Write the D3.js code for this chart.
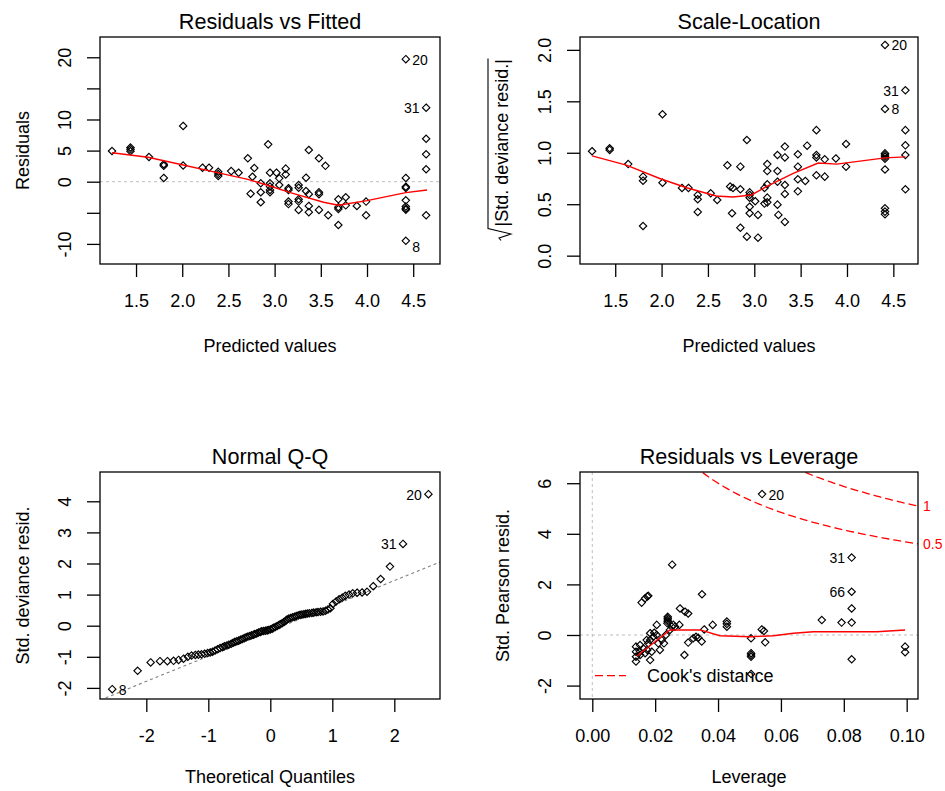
<!DOCTYPE html>
<html>
<head>
<meta charset="utf-8">
<script src="https://cdn.jsdelivr.net/npm/d3@7"></script>
<style>
  body { margin: 0; background: #fff; }
  svg { display: block; }
</style>
</head>
<body>
<svg id="chart" width="945" height="791"></svg>
<script>
// ---------- Residuals vs Fitted ----------
const rvfFitted = [1.24, 1.44,1.44,1.44, 1.64, 1.80,1.80,1.80, 2.01,2.01, 2.22,2.29, 2.39,2.39,2.39, 2.53,2.61,
  2.71,2.74,2.76,2.78, 2.85,2.85,2.85, 2.93,2.95,2.95,2.95,2.95,2.95, 3.02,3.05,3.05, 3.12,3.12,
  3.15,3.15,3.15,3.15, 3.26,3.26,3.26,3.26,3.26, 3.34,3.34, 3.37,3.37,3.37,3.37, 3.48,3.48,3.48,3.48,
  3.55,3.58, 3.69,3.69,3.69,3.69, 3.77,3.77, 3.89, 3.99,3.99,
  4.42,4.42,4.42,4.42,4.42,4.42,4.42,4.42,4.42, 4.64,4.64,4.64,4.64,4.64];
const rvfResid = [4.93, 5.5,5.2,4.9, 3.97, 2.8,2.57,0.6, 8.96,2.6, 2.25,2.25, 1.6,1.23,0.91, 1.7,1.45,
  3.76,-1.93,0.8,2.2, -0.26,-1.7,-3.3, 6.0,1.45,-0.26,-0.79,-1.32,-1.7, 1.45,0.54,-0.53, 2.1,1.15,
  -1.05,-1.32,-3.2,-3.6, -0.53,-0.96,-2.83,-3.2,-4.53, 0.64,-1.5, 5.1,-2.0,-3.9,-4.9, 3.76,-1.7,-2.0,-4.53,
  2.55,-5.4, -2.83,-4.1,-4.4,-6.96, -2.5,-3.8, -3.9, -3.2,-5.4,
  19.7,0.6,-0.8,-1.0,-3.0,-4.0,-4.3,-4.5,-9.5, 11.9,6.9,4.4,2.0,-5.4];
const rvfSmoothX = [1.24,1.63,2.01,2.38,2.71,2.95,3.17,3.53,3.69,4.00,4.42,4.65];
const rvfSmoothY = [4.66,3.92,2.68,1.45,0.38,-0.69,-1.76,-3.31,-3.79,-3.04,-1.76,-1.33];
const rvfIdText = ["20","31","8"];
const rvfIdIndex = [65, 74, 73];
const rvfXTicks = [1.5,2.0,2.5,3.0,3.5,4.0,4.5];
const rvfYTicks = [-10,-5,0,5,10,15,20];
const rvfYShown = [-10,0,5,10,20];

// ---------- Scale-Location ----------
const slFitted = [1.25, 1.44,1.44, 1.64, 1.80,1.80,1.80, 2.01,2.01, 2.22,2.29, 2.39,2.39,2.39, 2.53,2.60,
  2.71,2.74,2.76,2.77, 2.85,2.85,2.85, 2.92,2.92, 2.95,2.95,2.95,2.95,2.95, 3.01, 3.04,3.04, 3.11,3.11,
  3.14,3.14,3.14,3.14,3.14, 3.25,3.25,3.25,3.25,3.26, 3.33,3.33,3.33,3.33,3.33, 3.47,3.47,3.47,3.47,
  3.55,3.57, 3.67,3.67,3.67,3.67, 3.76,3.76, 3.88, 3.99,3.99,
  4.41,4.41,4.41,4.41,4.41,4.41,4.41,4.41,4.41,4.41, 4.63,4.63,4.63,4.63,4.63];
const slRoot = [1.015, 1.044,1.028, 0.89, 0.768,0.729,0.288, 1.374,0.709, 0.658,0.658, 0.59,0.548,0.425, 0.606,0.541,
  0.878,0.671,0.412,0.658, 0.865,0.645,0.272, 1.124,0.185, 0.615,0.59,0.564,0.476,0.412, 0.529, 0.396,0.175, 0.658,0.506,
  0.89,0.822,0.693,0.564,0.518, 0.978,0.822,0.719,0.496,0.396, 1.06,0.955,0.687,0.6,0.328, 0.985,0.865,0.742,0.625,
  0.726,1.069, 1.22,0.978,0.955,0.781, 0.936,0.768, 0.945, 1.085,0.865,
  2.048,1.426,0.994,0.978,0.962,0.942,0.838,0.46,0.428,0.402, 1.607,1.22,1.072,0.978,0.645];
const slSmoothX = [1.25,1.62,1.98,2.27,2.59,2.77,2.97,3.13,3.42,3.69,3.89,4.41,4.63];
const slSmoothY = [0.97,0.88,0.75,0.66,0.58,0.57,0.59,0.67,0.80,0.90,0.89,0.95,0.96];
const slIdText = ["20","8","31"];
const slIdIndex = [65, 66, 75];
const slYTicks = [0.0,0.5,1.0,1.5,2.0];

// ---------- Normal Q-Q ----------
const qqTheoretical = [-2.55,-2.14,-1.93,-1.78,-1.66,-1.56,-1.48,-1.40,-1.33,-1.27,-1.21,-1.16,-1.11,-1.06,-1.01,
  -0.97,-0.93,-0.89,-0.85,-0.81,-0.77,-0.74,-0.70,-0.67,-0.63,-0.60,-0.57,-0.54,-0.51,-0.48,-0.45,-0.42,-0.39,
  -0.36,-0.33,-0.30,-0.27,-0.25,-0.22,-0.19,-0.16,-0.14,-0.11,-0.08,-0.05,-0.03,0,
  0.03,0.05,0.08,0.11,0.14,0.16,0.19,0.22,0.25,0.27,0.30,0.33,0.36,0.39,0.42,0.45,0.48,0.51,0.54,0.57,0.60,
  0.63,0.67,0.70,0.74,0.77,0.81,0.85,0.89,0.93,0.97,1.01,1.06,1.11,1.16,1.21,1.27,1.33,1.40,1.48,1.56,1.66,
  1.78,1.93,2.14,2.55];
const qqSample = [-2.04,-1.45,-1.18,-1.14,-1.14,-1.13,-1.10,-1.06,-1.00,-0.96,-0.94,-0.93,-0.92,-0.90,-0.88,
  -0.86,-0.84,-0.80,-0.76,-0.72,-0.69,-0.66,-0.64,-0.61,-0.58,-0.55,-0.52,-0.50,-0.48,-0.45,-0.43,-0.40,-0.37,
  -0.35,-0.33,-0.31,-0.29,-0.27,-0.25,-0.22,-0.20,-0.18,-0.17,-0.16,-0.15,-0.14,-0.12,
  -0.10,-0.07,-0.04,-0.01,0.02,0.05,0.08,0.12,0.16,0.20,0.23,0.25,0.27,0.29,0.31,0.33,0.35,0.36,0.37,0.38,0.39,
  0.40,0.41,0.42,0.43,0.44,0.45,0.46,0.48,0.52,0.56,0.70,0.78,0.85,0.90,0.96,1.00,1.04,1.06,1.07,1.09,1.27,
  1.50,1.90,2.63,4.23];
const qqLineIntercept = -0.17;
const qqLineSlope = 0.81;
const qqIdText = ["8","31","20"];
const qqIdIndex = [0, 91, 92];
const qqXTicks = [-2,-1,0,1,2];
const qqYTicks = [-2,-1,0,1,2,3,4];

// ---------- Residuals vs Leverage ----------
const rvlLeverage = [0.0139,0.0139,0.0139,0.0139,0.0152,0.0152,0.0152,0.0162,0.0168,0.0175,0.0178,0.0184,0.0184,
  0.0189,0.0194,0.0197,0.0205,0.0210,0.0215,0.0221,0.0228,0.0234,0.0239,0.0247,0.0253,0.0258,0.0263,0.0293,
  0.0305,0.0321,0.0330,0.0337,0.0348,0.0184,0.0173,
  0.0157,0.0168,0.0175,0.0178,0.0254,0.0349,0.0279,0.0295,0.0305,0.0205,0.0240,0.0240,0.0240,0.0240,0.0277,
  0.0356,0.0383,0.0428,0.0428,0.0428,0.0505,0.0505,0.0505,0.0505,0.0505,0.0539,0.0546,0.0550,0.0730,0.0793,
  0.0825,0.0825,0.0825,0.0825,0.0825,0.0995,0.0995,0.0540];
const rvlResid = [-0.46,-0.66,-0.86,-1.05,-0.40,-0.66,-0.79,-0.53,-0.72,-0.59,-0.33,-0.20,-0.99,
  -0.66,-0.07,0.09,0.00,-0.33,-0.59,-0.20,-0.33,0.00,0.46,0.20,0.33,0.40,0.33,-0.79,
  -0.30,-0.13,-0.07,-0.11,-0.26,0.07,-0.20,
  1.28,1.45,1.52,1.55,2.78,1.61,1.05,0.92,0.85,0.40,0.72,0.66,0.59,0.53,0.40,
  0.22,0.40,0.53,0.44,0.33,-0.13,-0.72,-0.79,-0.86,-1.54,0.22,0.16,-0.29,0.59,0.49,
  3.06,1.71,1.05,0.49,-0.96,-0.46,-0.68,5.57];
const rvlSmoothX = [0.0142,0.0247,0.0343,0.0406,0.0501,0.0576,0.0640,0.0703,0.0905,0.0995];
const rvlSmoothY = [-0.83,0.20,0.20,-0.03,-0.07,-0.03,0.07,0.13,0.13,0.20];
const rvlIdText = ["20","31","66"];
const rvlIdIndex = [72, 65, 66];
const cookLevels = [0.5, 1];
const cookLevelText = ["0.5", "1"];
const modelParams = 3;
const rvlXTicks = [0.00,0.02,0.04,0.06,0.08,0.10];
const rvlYTicks = [-2,0,2,4,6];

// ---------- drawing ----------
const FONT = "'Liberation Sans', Arial, Helvetica, sans-serif";
const RED = "#ff0000";
const svg = d3.select("#chart");
svg.append("rect").attr("width", 945).attr("height", 791).attr("fill", "#fff");
const defs = svg.append("defs");
let clipCount = 0;

const diamond = "M0,-3.7L3.7,0L0,3.7L-3.7,0Z";

function panel(o) {
  const x = d3.scaleLinear().domain(o.xDomain).range([o.left, o.right]);
  const y = d3.scaleLinear().domain(o.yDomain).range([o.bottom, o.top]);
  const id = "clip" + (clipCount++);
  defs.append("clipPath").attr("id", id).append("rect")
    .attr("x", o.left).attr("y", o.top)
    .attr("width", o.right - o.left).attr("height", o.bottom - o.top);
  const g = svg.append("g");
  const plot = g.append("g").attr("clip-path", `url(#${id})`);

  // x axis
  const xa = g.append("g").attr("transform", `translate(0,${o.bottom})`)
    .call(d3.axisBottom(x).tickValues(o.xTicks).tickSize(13).tickFormat(o.xFormat));
  xa.select(".domain").remove();
  xa.attr("font-size", 18).attr("font-family", FONT);
  xa.selectAll(".tick line").attr("stroke", "#000").attr("stroke-width", 1.3);
  xa.selectAll(".tick text").attr("y", 42.5).attr("dy", 0).attr("fill", "#000");

  // y axis (labels parallel to the axis)
  const ya = g.append("g").attr("transform", `translate(${o.left},0)`)
    .call(d3.axisLeft(y).tickValues(o.yTicks).tickSize(13).tickFormat(o.yFormat));
  ya.select(".domain").remove();
  ya.attr("font-size", 18).attr("font-family", FONT);
  ya.selectAll(".tick line").attr("stroke", "#000").attr("stroke-width", 1.3);
  ya.selectAll(".tick text").attr("x", 0).attr("dy", 0).attr("text-anchor", "middle")
    .attr("fill", "#000").attr("transform", "translate(-29,0) rotate(-90)");

  // frame
  g.append("rect").attr("x", o.left).attr("y", o.top)
    .attr("width", o.right - o.left).attr("height", o.bottom - o.top)
    .attr("fill", "none").attr("stroke", "#000").attr("stroke-width", 1.3);

  // title and axis titles
  g.append("text").attr("x", (o.left + o.right) / 2).attr("y", o.top - 7.7)
    .attr("text-anchor", "middle").attr("font-family", FONT).attr("font-size", 21.6)
    .attr("fill", "#000").text(o.title);
  g.append("text").attr("x", (o.left + o.right) / 2).attr("y", o.bottom + o.xlabGap)
    .attr("text-anchor", "middle").attr("font-family", FONT).attr("font-size", 18)
    .attr("fill", "#000").text(o.xlab);
  if (o.ylab) {
    g.append("text")
      .attr("transform", `translate(${o.left - 71},${(o.top + o.bottom) / 2}) rotate(-90)`)
      .attr("text-anchor", "middle").attr("font-family", FONT).attr("font-size", 18)
      .attr("fill", "#000").text(o.ylab);
  }
  return { x, y, g, plot };
}

function points(p, xs, ys) {
  p.plot.append("g").selectAll("path").data(xs).join("path")
    .attr("d", diamond)
    .attr("transform", (d, i) => `translate(${p.x(d)},${p.y(ys[i])})`)
    .attr("fill", "none").attr("stroke", "#000").attr("stroke-width", 1.15);
}

function smooth(p, xs, ys) {
  const line = d3.line().x(d => p.x(d[0])).y(d => p.y(d[1]));
  p.plot.append("path").attr("d", line(xs.map((d, i) => [d, ys[i]])))
    .attr("fill", "none").attr("stroke", RED).attr("stroke-width", 1.4);
}

function idLabels(p, xs, ys, texts, idx, sides) {
  texts.forEach((t, k) => {
    const i = idx[k];
    const cx = p.x(xs[i]), cy = p.y(ys[i]);
    const side = sides[k];
    let tx = side === "left" ? cx - 6.5 : cx + 6.5;
    let ty = cy + 5.5 + (side === "below" ? 6 : 0);
    p.g.append("text").attr("x", tx).attr("y", ty)
      .attr("text-anchor", side === "left" ? "end" : "start")
      .attr("font-family", FONT).attr("font-size", 14).attr("fill", "#000").text(t);
  });
}

function hLine(p, v, color, dash) {
  const [x0, x1] = p.x.domain();
  p.plot.append("line").attr("x1", p.x(x0)).attr("x2", p.x(x1))
    .attr("y1", p.y(v)).attr("y2", p.y(v))
    .attr("stroke", color).attr("stroke-width", 1).attr("stroke-dasharray", dash);
}

const f1 = d3.format(".1f");
const f2 = d3.format(".2f");
const plain = d => String(d);

// Panel 1: Residuals vs Fitted
const p1 = panel({
  left: 100, right: 440, top: 37, bottom: 264,
  xDomain: [1.110, 4.790], yDomain: [-13.23, 23.26],
  xTicks: rvfXTicks, yTicks: rvfYTicks,
  xFormat: f1, yFormat: d => rvfYShown.includes(d) ? String(d) : "",
  title: "Residuals vs Fitted", xlab: "Predicted values", ylab: "Residuals", xlabGap: 88
});
hLine(p1, 0, "#bebebe", "3,3");
points(p1, rvfFitted, rvfResid);
smooth(p1, rvfSmoothX, rvfSmoothY);
idLabels(p1, rvfFitted, rvfResid, rvfIdText, rvfIdIndex, ["right", "left", "below"]);

// Panel 2: Scale-Location
const p2 = panel({
  left: 580, right: 918, top: 37, bottom: 264,
  xDomain: [1.120, 4.766], yDomain: [-0.081, 2.125],
  xTicks: rvfXTicks, yTicks: slYTicks,
  xFormat: f1, yFormat: f1,
  title: "Scale-Location", xlab: "Predicted values", ylab: null, xlabGap: 88
});
points(p2, slFitted, slRoot);
smooth(p2, slSmoothX, slSmoothY);
idLabels(p2, slFitted, slRoot, slIdText, slIdIndex, ["right", "right", "left"]);
{
  // y title: square root of absolute standardized deviance residuals
  const yl = p2.g.append("g")
    .attr("transform", `translate(${580 - 72},${(37 + 264) / 2}) rotate(-90)`);
  yl.append("text").attr("x", -76).attr("y", 0).attr("text-anchor", "start")
    .attr("font-family", FONT).attr("font-size", 18).attr("fill", "#000")
    .text("|Std. deviance resid.|");
  yl.append("path")
    .attr("d", "M-90,-7 L-87.5,-9 L-83.5,3 L-78,-20 L92,-20")
    .attr("fill", "none").attr("stroke", "#000").attr("stroke-width", 1.1);
}

// Panel 3: Normal Q-Q
const p3 = panel({
  left: 100, right: 440, top: 472, bottom: 699,
  xDomain: [-2.747, 2.737], yDomain: [-2.357, 4.942],
  xTicks: qqXTicks, yTicks: qqYTicks,
  xFormat: plain, yFormat: plain,
  title: "Normal Q-Q", xlab: "Theoretical Quantiles", ylab: "Std. deviance resid.", xlabGap: 83.5
});
{
  const [x0, x1] = p3.x.domain();
  p3.plot.append("line")
    .attr("x1", p3.x(x0)).attr("y1", p3.y(qqLineIntercept + qqLineSlope * x0))
    .attr("x2", p3.x(x1)).attr("y2", p3.y(qqLineIntercept + qqLineSlope * x1))
    .attr("stroke", "#7f7f7f").attr("stroke-width", 1.1).attr("stroke-dasharray", "3,3");
}
points(p3, qqTheoretical, qqSample);
idLabels(p3, qqTheoretical, qqSample, qqIdText, qqIdIndex, ["right", "left", "left"]);

// Panel 4: Residuals vs Leverage
const p4 = panel({
  left: 580, right: 918, top: 472, bottom: 699,
  xDomain: [-0.00391, 0.1036], yDomain: [-2.53, 6.443],
  xTicks: rvlXTicks, yTicks: rvlYTicks,
  xFormat: f2, yFormat: plain,
  title: "Residuals vs Leverage", xlab: "Leverage", ylab: "Std. Pearson resid.", xlabGap: 83.5
});
hLine(p4, 0, "#bebebe", "3,3");
p4.plot.append("line").attr("x1", p4.x(0)).attr("x2", p4.x(0))
  .attr("y1", 472).attr("y2", 699)
  .attr("stroke", "#bebebe").attr("stroke-width", 1).attr("stroke-dasharray", "3,3");
points(p4, rvlLeverage, rvlResid);
smooth(p4, rvlSmoothX, rvlSmoothY);
{
  // Cook's distance contours: |r| = sqrt(D * p * (1 - h) / h)
  const hMax = p4.x.domain()[1];
  const hs = d3.range(101).map(k => 0.0005 + (hMax - 0.0005) * k / 100);
  cookLevels.forEach((lev, j) => {
    const curve = h => Math.sqrt(lev * modelParams * (1 - h) / h);
    [1, -1].forEach(sgn => {
      const line = d3.line().x(h => p4.x(h)).y(h => p4.y(sgn * curve(h)));
      p4.plot.append("path").attr("d", line(hs))
        .attr("fill", "none").attr("stroke", RED).attr("stroke-width", 1.3)
        .attr("stroke-dasharray", "8,4");
    });
    p4.g.append("text").attr("x", 923).attr("y", p4.y(curve(hMax)) + 5)
      .attr("font-family", FONT).attr("font-size", 14).attr("fill", RED)
      .text(cookLevelText[j]);
  });
  // legend
  p4.g.append("line").attr("x1", 595).attr("x2", 626).attr("y1", 675.7).attr("y2", 675.7)
    .attr("stroke", RED).attr("stroke-width", 1.3).attr("stroke-dasharray", "8,4");
  p4.g.append("text").attr("x", 647).attr("y", 682)
    .attr("font-family", FONT).attr("font-size", 18).attr("fill", "#000").text("Cook's distance");
}
idLabels(p4, rvlLeverage, rvlResid, rvlIdText, rvlIdIndex, ["right", "left", "left"]);
</script>
</body>
</html>
